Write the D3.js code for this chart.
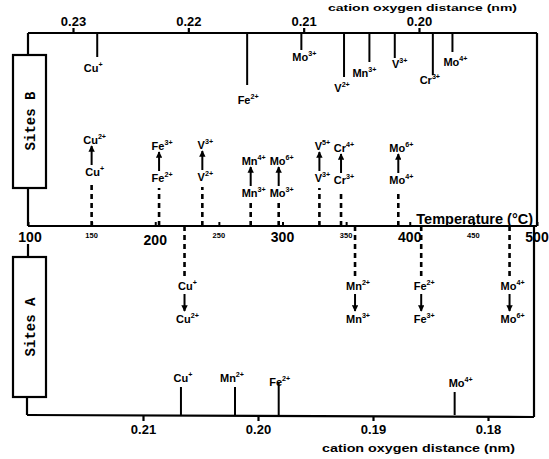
<!DOCTYPE html>
<html><head><meta charset="utf-8">
<script src="https://cdn.jsdelivr.net/npm/d3@7"></script>
<style>body{margin:0;background:#fff}</style>
</head><body><svg id="c" width="549" height="459"></svg>
<script>
// ---------- data ----------
const topDistTicks = [0.23, 0.22, 0.21, 0.20];
const bottomDistTicks = [0.21, 0.20, 0.19, 0.18];
const tempTicks = [100, 150, 200, 250, 300, 350, 400, 450, 500];
const tempMajor = [100, 200, 300, 400, 500];

// Sites B (octahedral): cation-oxygen distances (top axis)
const siteBIon = ["Cu", "Fe", "Mo", "V", "Mn", "V", "Cr", "Mo"];
const siteBCharge = ["+", "2+", "3+", "2+", "3+", "3+", "3+", "4+"];
const siteBDist = [0.2279, 0.2149, 0.2102, 0.2065, 0.2043, 0.2021, 0.1988, 0.1971];

// Sites B oxidation transitions (temperature)
const transBIon = ["Cu", "Fe", "V", "Mn", "Mo", "V", "Cr", "Mo"];
const transBFrom = ["+", "2+", "2+", "3+", "3+", "3+", "3+", "4+"];
const transBTo = ["2+", "3+", "3+", "4+", "6+", "5+", "4+", "6+"];
const transBTemp = [150, 203, 237, 275, 297, 329, 346, 391];

// Sites A (tetrahedral): cation-oxygen distances (bottom axis)
const siteAIon = ["Cu", "Mn", "Fe", "Mo"];
const siteACharge = ["+", "2+", "2+", "4+"];
const siteADist = [0.2067, 0.2020, 0.1982, 0.1829];

// Sites A oxidation transitions
const transAIon = ["Cu", "Mn", "Fe", "Mo"];
const transAFrom = ["+", "2+", "2+", "4+"];
const transATo = ["2+", "3+", "3+", "6+"];
const transATemp = [223, 357, 409, 480];

// ---------- layout (pixels) ----------
const stemLenB = [24, 52, 17, 44, 29, 25, 42, 19];
const labGapB = [15, 19, 11, 15, 15, 10, 9, 14];
const labDxB = [-4, 1, 3, -2, -5, 5, -3, 3];
const stemLenA = [28, 28, 32, 23];
const labGapA = [5, 5, -3, 5];
const labDxA = [2, -3, 1, 6];
const riseB = [50, 44, 45, 29, 29, 44, 42, 42];

const yTop = 33, yMid = 226, yBot = 415;
const xL = 28, xR = 537, xRb = 534;

const svg = d3.select("#c");
const FONT = "'Liberation Sans', Arial, sans-serif";

const xTop = d3.scaleLinear().domain([0.23, 0.20]).range([73, 419]);
const xBot = d3.scaleLinear().domain([0.21, 0.18]).range([143, 488]);
const xT = d3.scaleLinear().domain([100, 500]).range([xL, xR]);

svg.append("defs").append("marker")
  .attr("id", "ah").attr("viewBox", "0 0 10 10").attr("refX", 9).attr("refY", 5)
  .attr("markerWidth", 3.2).attr("markerHeight", 3.2).attr("orient", "auto")
  .append("path").attr("d", "M0,0L10,5L0,10Z").attr("fill", "#000");

const ln = (x1, y1, x2, y2, w) => svg.append("line")
  .attr("x1", x1).attr("y1", y1).attr("x2", x2).attr("y2", y2)
  .attr("stroke", "#000").attr("stroke-width", w || 2.2);

function ionLabel(x, y, base, charge, size) {
  const t = svg.append("text").attr("x", x).attr("y", y).attr("text-anchor", "middle")
    .attr("font-family", FONT).attr("font-weight", "bold").attr("font-size", size);
  t.append("tspan").text(base);
  t.append("tspan").attr("font-size", size * 0.65).attr("dy", -size * 0.5).text(charge);
}

// ---------- frame ----------
ln(xL, yTop, xR, yTop);
ln(xR, yTop, xR, yMid);
ln(xL, yMid, xR, yMid);
ln(xRb, yMid, xRb, yBot + 2);
ln(xL - 1, yBot, xRb, yBot + 2);
ln(xL, yTop, xL, 55); ln(xL, 188, xL, yMid);
ln(xL, 244, xL, 257); ln(xL - 1, 397, xL - 1, yBot);
svg.append("rect").attr("x", 13).attr("y", 55).attr("width", 33).attr("height", 133)
  .attr("fill", "#fff").attr("stroke", "#000").attr("stroke-width", 2.2);
svg.append("rect").attr("x", 13).attr("y", 257).attr("width", 33).attr("height", 140)
  .attr("fill", "#fff").attr("stroke", "#000").attr("stroke-width", 2.2);
svg.append("text").attr("transform", "translate(35,121) rotate(-90)")
  .attr("text-anchor", "middle").attr("font-family", "'Liberation Mono', monospace")
  .attr("font-weight", "bold").attr("font-size", 14).text("Sites B");
svg.append("text").attr("transform", "translate(35,327) rotate(-90)")
  .attr("text-anchor", "middle").attr("font-family", "'Liberation Mono', monospace")
  .attr("font-weight", "bold").attr("font-size", 14).text("Sites A");

// ---------- axes ----------
const axTop = svg.append("g").attr("transform", `translate(0,${yTop})`)
  .call(d3.axisTop(xTop).tickValues(topDistTicks).tickFormat(d3.format(".2f"))
    .tickSize(5).tickPadding(2));
const axBot = svg.append("g").attr("transform", `translate(0,${yBot + 1})`)
  .call(d3.axisBottom(xBot).tickValues(bottomDistTicks).tickFormat(d3.format(".2f"))
    .tickSize(5).tickPadding(4));
[axTop, axBot].forEach(a => {
  a.select(".domain").remove();
  a.selectAll("line").attr("stroke-width", 2.2);
  a.selectAll("text").attr("font-family", FONT).attr("font-weight", "bold")
    .attr("font-size", 13).attr("fill", "#000");
});

const axMid = svg.append("g").attr("transform", `translate(0,${yMid})`)
  .call(d3.axisTop(xT).tickValues(tempTicks).tickFormat("").tickSize(4));
axMid.select(".domain").remove();
axMid.selectAll("line").attr("stroke-width", 2);
svg.selectAll(".tlab").data(tempTicks).enter().append("text")
  .attr("x", d => xT(d) + (d === 100 ? 2 : 0))
  .attr("y", d => tempMajor.includes(d) ? (d === 200 ? 245 : 242) : 238)
  .attr("text-anchor", "middle").attr("font-family", FONT).attr("font-weight", "bold")
  .attr("font-size", d => tempMajor.includes(d) ? 14 : 7.5)
  .text(d => d);

svg.append("text").attr("x", 533).attr("y", 224).attr("text-anchor", "end")
  .attr("font-family", FONT).attr("font-weight", "bold").attr("font-size", 14.5)
  .text("Temperature (°C)");
svg.append("text").attr("x", 328).attr("y", 11).attr("textLength", 189)
  .attr("lengthAdjust", "spacingAndGlyphs")
  .attr("font-family", FONT).attr("font-weight", "bold").attr("font-size", 9.5)
  .text("cation oxygen distance (nm)");
svg.append("text").attr("x", 322).attr("y", 452).attr("textLength", 193)
  .attr("lengthAdjust", "spacingAndGlyphs")
  .attr("font-family", FONT).attr("font-weight", "bold").attr("font-size", 10.5)
  .text("cation oxygen distance (nm)");

// ---------- Sites B distance stems ----------
siteBDist.forEach((d, i) => {
  const x = xTop(d), y2 = yTop + stemLenB[i];
  ln(x, yTop, x, y2, 2);
  ionLabel(x + labDxB[i], y2 + labGapB[i], siteBIon[i], siteBCharge[i], 11);
});

// ---------- Sites A distance stems ----------
siteADist.forEach((d, i) => {
  const x = xBot(d), y2 = yBot - stemLenA[i];
  ln(x, yBot, x, y2, 2);
  ionLabel(x + labDxA[i], y2 - labGapA[i], siteAIon[i], siteACharge[i], 11);
});

// ---------- Sites B transitions ----------
transBTemp.forEach((t, i) => {
  const x = xT(t);
  const yLow = yMid - riseB[i];
  svg.append("line").attr("x1", x).attr("x2", x).attr("y1", yMid).attr("y2", yLow + 6)
    .attr("stroke", "#000").attr("stroke-width", 2.6).attr("stroke-dasharray", "5,4");
  ionLabel(x + 3, yLow, transBIon[i], transBFrom[i], 11);
  const yUp = yLow - 32;
  svg.append("line").attr("x1", x).attr("x2", x).attr("y1", yLow - 11).attr("y2", yUp + 2)
    .attr("stroke", "#000").attr("stroke-width", 2).attr("marker-end", "url(#ah)");
  ionLabel(x + 3, yUp, transBIon[i], transBTo[i], 11);
});

// ---------- Sites A transitions ----------
transATemp.forEach((t, i) => {
  const x = xT(t) - (t > 450 ? 2 : 0);
  svg.append("line").attr("x1", x).attr("x2", x).attr("y1", yMid).attr("y2", 278)
    .attr("stroke", "#000").attr("stroke-width", 2.6).attr("stroke-dasharray", "5,4");
  ionLabel(x + 3, 290, transAIon[i], transAFrom[i], 11);
  svg.append("line").attr("x1", x).attr("x2", x).attr("y1", 294).attr("y2", 311)
    .attr("stroke", "#000").attr("stroke-width", 2).attr("marker-end", "url(#ah)");
  ionLabel(x + 3, 323, transAIon[i], transATo[i], 11);
});
</script>
</body></html>
